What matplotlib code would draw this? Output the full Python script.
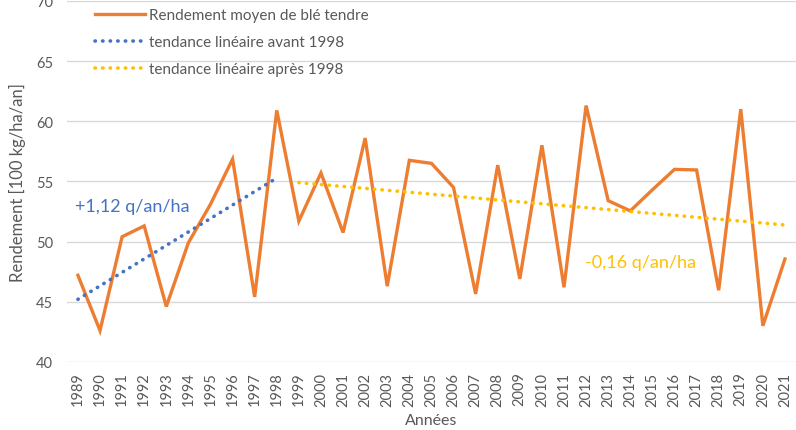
import matplotlib.pyplot as plt
import numpy as np

plt.rcParams['font.family'] = ['Lato', 'DejaVu Sans']

# Rendement moyen de blé tendre (q/ha)
annees = list(range(1989, 2022))
rendement = [47.2, 42.6, 50.4, 51.3, 44.6, 49.9, 53.1, 56.85, 45.4, 60.9,
             51.7, 55.7, 50.75, 58.6, 46.3, 56.75, 56.5, 54.5, 45.65, 56.35,
             46.9, 58.0, 46.2, 61.3, 53.4, 52.55, 54.3, 56.0, 55.95, 45.95,
             61.0, 43.0, 48.55]

# tendances linéaires (début / fin)
tend_avant_x = [1989, 1998]
tend_avant_y = [45.2, 55.28]
tend_apres_x = [1999, 2021]
tend_apres_y = [54.9, 51.38]

orange = '#ED7D31'
bleu = '#4472C4'
jaune = '#FFC000'
gris = '#595959'

fig = plt.figure(figsize=(7.96, 4.31), dpi=100)
ax = fig.add_axes([0.084, 0.158, 0.916, 0.8376])

ax.plot(annees, rendement, color=orange, lw=2.4, solid_joinstyle='miter',
        label='Rendement moyen de blé tendre', zorder=3)
ax.plot(tend_avant_x, tend_avant_y, color=bleu, lw=2.6,
        linestyle=(0, (0.1, 2.0)), dash_capstyle='round',
        label='tendance linéaire avant 1998', zorder=4)
ax.plot(tend_apres_x, tend_apres_y, color=jaune, lw=2.6,
        linestyle=(0, (0.1, 2.0)), dash_capstyle='round',
        label='tendance linéaire après 1998', zorder=4)

ax.set_xlim(1988.5, 2021.5)
ax.set_ylim(40, 70)
ax.set_yticks(np.arange(40, 71, 5))
ax.set_xticks(annees)
ax.set_xticklabels([str(a) for a in annees], rotation=90)
ax.tick_params(axis='both', length=0, colors=gris, labelsize=10.5)
ax.tick_params(axis='x', pad=7)
ax.tick_params(axis='y', pad=10)

ax.grid(axis='y', color='#D9D9D9', lw=1)
ax.set_axisbelow(True)
for s in ax.spines.values():
    s.set_visible(False)

ax.set_ylabel('Rendement [100 kg/ha/an]', color=gris, fontsize=12, labelpad=7)
ax.set_xlabel('Années', color=gris, fontsize=11.5, labelpad=5)

ax.text(1988.86, 52.96, '+1,12 q/an/ha', color=bleu, fontsize=13, va='center')
ax.text(2011.95, 48.3, '-0,16 q/an/ha', color=jaune, fontsize=13, va='center')

leg = ax.legend(loc='upper left', bbox_to_anchor=(0.038, 0.98), frameon=False,
                fontsize=11, handlelength=3.3, handletextpad=0.25,
                labelspacing=0.85, borderpad=0, borderaxespad=0)
for t in leg.get_texts():
    t.set_color(gris)

fig.savefig('out.png', dpi=100)
